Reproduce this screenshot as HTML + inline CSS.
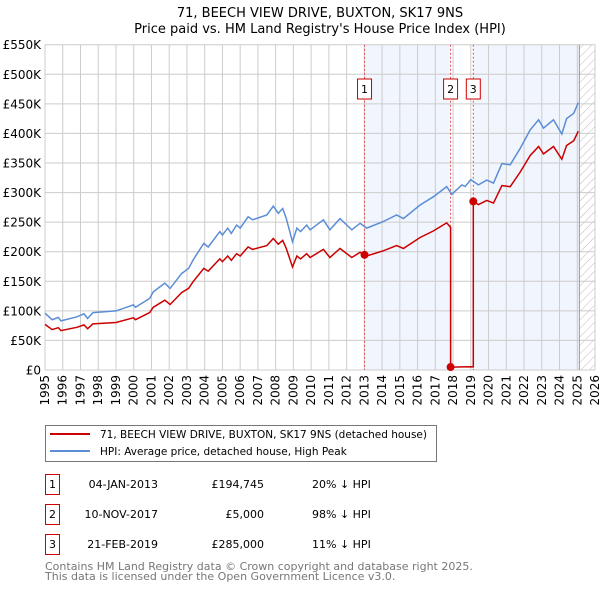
<!DOCTYPE html>
<html><head><meta charset="utf-8"><style>
body{margin:0;background:#fff;font-family:"DejaVu Sans","Liberation Sans",sans-serif;}
svg{display:block}
</style></head><body>
<svg id="c" width="600" height="590" font-family="DejaVu Sans, Liberation Sans, sans-serif">
<text x="320" y="17" text-anchor="middle" font-size="13">71, BEECH VIEW DRIVE, BUXTON, SK17 9NS</text>
<text x="320" y="33" text-anchor="middle" font-size="13">Price paid vs. HM Land Registry's House Price Index (HPI)</text>
<defs><pattern id="hatch" width="6" height="6" patternUnits="userSpaceOnUse" patternTransform="rotate(45)"><line x1="0" y1="0" x2="0" y2="6" stroke="#bbb" stroke-width="1"/></pattern></defs>
<g id="plot"></g>
<rect x="45.5" y="425.5" width="391" height="36" fill="#fff" stroke="#777"/>
<line x1="50" y1="434" x2="90" y2="434" stroke="#cc0000" stroke-width="2"/>
<text x="100" y="438" font-size="10.5">71, BEECH VIEW DRIVE, BUXTON, SK17 9NS (detached house)</text>
<line x1="50" y1="451" x2="90" y2="451" stroke="#5b8ed6" stroke-width="2"/>
<text x="100" y="455" font-size="10.5">HPI: Average price, detached house, High Peak</text>
<g id="table" font-size="11"></g>
<text x="45" y="570" font-size="11" fill="#777">Contains HM Land Registry data © Crown copyright and database right 2025.</text>
<text x="45" y="580" font-size="11" fill="#777">This data is licensed under the Open Government Licence v3.0.</text>
</svg>
<script>
const yearTicks=[1995,1996,1997,1998,1999,2000,2001,2002,2003,2004,2005,2006,2007,2008,2009,2010,2011,2012,2013,2014,2015,2016,2017,2018,2019,2020,2021,2022,2023,2024,2025,2026];
const valueTicks=[0,50,100,150,200,250,300,350,400,450,500,550];
const valueLabels=["£0","£50K","£100K","£150K","£200K","£250K","£300K","£350K","£400K","£450K","£500K","£550K"];
const hpiYears=[1995.0,1995.4,1995.75,1995.9,1996.8,1997.2,1997.4,1997.7,1999.0,1999.98,2000.1,2000.9,2001.1,2001.75,2002.05,2002.7,2003.1,2003.35,2003.95,2004.2,2004.85,2005.0,2005.3,2005.5,2005.8,2006.0,2006.45,2006.7,2007.5,2007.87,2008.15,2008.4,2008.6,2008.95,2009.2,2009.4,2009.75,2009.94,2010.69,2011.06,2011.63,2012.29,2012.76,2013.13,2014.07,2014.82,2015.2,2016.14,2016.9,2017.64,2017.93,2018.5,2018.68,2019.0,2019.43,2019.9,2020.28,2020.75,2021.22,2021.79,2022.35,2022.82,2023.1,2023.66,2024.13,2024.4,2024.8,2025.06];
const hpiValues=[96,85,89,83,90,95,87,97,100,110,106,121,132,147,138,163,172,186,214,208,234,228,240,231,245,240,259,254,262,277,265,273,256,217,240,234,245,237,254,237,256,237,248,240,251,262,256,279,293,310,297,313,310,322,313,321,316,349,347,375,406,423,409,423,399,425,434,452];
const saleYears=[2013.01,2017.86,2019.14];
const salePrices=[194.745,5,285];
const saleLabels=["1","2","3"];
const saleDates=["04-JAN-2013","10-NOV-2017","21-FEB-2019"];
const salePriceText=["£194,745","£5,000","£285,000"];
const saleHpiText=["20% ↓ HPI","98% ↓ HPI","11% ↓ HPI"];

const L=45,R=595,T=44.7,B=370,Y0=1995,Y1=2026,VMAX=550,dataEnd=2025.12;
const xs=y=>L+(y-Y0)/(Y1-Y0)*(R-L);
const ys=v=>B-v/VMAX*(B-T);
const NS="http://www.w3.org/2000/svg";
const plot=document.getElementById('plot');
function mk(tag,attrs,parent){const e=document.createElementNS(NS,tag);for(const k in attrs)e.setAttribute(k,attrs[k]);(parent||plot).appendChild(e);return e;}
function hpiAt(y){if(y<=hpiYears[0])return hpiValues[0];for(let i=1;i<hpiYears.length;i++){if(y<=hpiYears[i]){const t=(y-hpiYears[i-1])/(hpiYears[i]-hpiYears[i-1]);return hpiValues[i-1]+t*(hpiValues[i]-hpiValues[i-1]);}}return hpiValues[hpiValues.length-1];}

let s=mk('rect',{x:xs(saleYears[0]),y:T,width:xs(saleYears[1])-xs(saleYears[0]),height:B-T,fill:'#eef3fc',opacity:0.8});


s=mk('rect',{x:xs(saleYears[2]),y:T,width:xs(dataEnd)-xs(saleYears[2]),height:B-T,fill:'#eef3fc',opacity:0.8});


s=mk('rect',{x:xs(dataEnd),y:T,width:R-xs(dataEnd),height:B-T,fill:'url(#hatch)'});



yearTicks.forEach(y=>{const g=mk('line',{x1:xs(y),x2:xs(y),y1:T,y2:B,stroke:'#ccc','stroke-width':1});


const t=mk('text',{x:0,y:0,'font-size':12,'text-anchor':'end',transform:`translate(${xs(y)+4},${B+5}) rotate(-90)`});t.textContent=y;

});
valueTicks.forEach((v,i)=>{const g=mk('line',{x1:L,x2:R,y1:ys(v),y2:ys(v),stroke:'#ccc','stroke-width':1});


const t=mk('text',{x:L-4,y:ys(v)+4.5,'font-size':12,'text-anchor':'end'});t.textContent=valueLabels[i];

});
let dl=mk('line',{x1:xs(dataEnd),x2:xs(dataEnd),y1:T,y2:B,stroke:'#999','stroke-width':1});



saleYears.forEach((y,i)=>{const l=mk('line',{x1:xs(y),x2:xs(y),y1:T,y2:B,stroke:'#e05555','stroke-width':1,'stroke-dasharray':'2,2'});


const bx=mk('rect',{x:xs(y)-7,y:79,width:14,height:20,fill:'#fff',stroke:'#cc0000'});


const t=mk('text',{x:xs(y),y:93,'font-size':11,'text-anchor':'middle'});t.textContent=saleLabels[i];

});

let d=hpiYears.map((y,i)=>(i?'L':'M')+xs(y).toFixed(1)+','+ys(hpiValues[i]).toFixed(1)).join('');
let hp=mk('path',{d:d,fill:'none',stroke:'#5b8ed6','stroke-width':1.5});



const k=saleYears.map((y,i)=>salePrices[i]/hpiAt(y));
let pts=[];
function seg(a,b,kk){const arr=[a,...hpiYears.filter(y=>y>a&&y<b),b];arr.forEach(y=>pts.push([y,hpiAt(y)*kk]));}
seg(Y0,saleYears[1],k[0]);
seg(saleYears[1],saleYears[2],k[1]);
seg(saleYears[2],hpiYears[hpiYears.length-1],k[2]);
d=pts.map((p,i)=>(i?'L':'M')+xs(p[0]).toFixed(1)+','+ys(p[1]).toFixed(1)).join('');
let pp=mk('path',{d:d,fill:'none',stroke:'#cc0000','stroke-width':1.5});


saleYears.forEach((y,i)=>{const c=mk('circle',{cx:xs(y),cy:ys(salePrices[i]),r:4,fill:'#cc0000'});

});

const tb=document.getElementById('table');
saleYears.forEach((y,i)=>{const cy=484+i*30;
const b=mk('rect',{x:45.5,y:cy-9.5,width:14,height:20,fill:'#fff',stroke:'#cc0000'},tb);


let t=mk('text',{x:52.5,y:cy+4,'text-anchor':'middle'},tb);t.textContent=saleLabels[i];


t=mk('text',{x:158,y:cy+4,'text-anchor':'end'},tb);t.textContent=saleDates[i];


t=mk('text',{x:264,y:cy+4,'text-anchor':'end'},tb);t.textContent=salePriceText[i];


t=mk('text',{x:312,y:cy+4},tb);t.textContent=saleHpiText[i];

});
</script>
</body></html>
